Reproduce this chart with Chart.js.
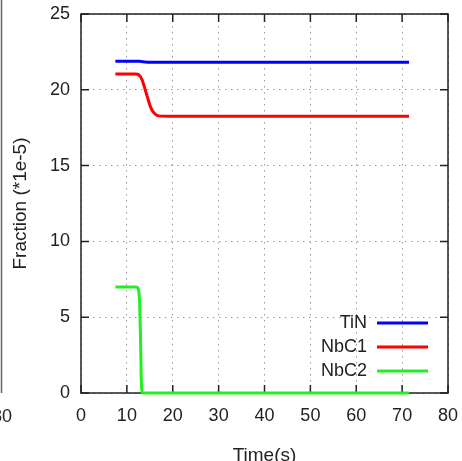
<!DOCTYPE html>
<html>
<head>
<meta charset="utf-8">
<title>Fraction vs time</title>
<script src="https://cdn.jsdelivr.net/npm/chart.js@4.4.1/dist/chart.umd.min.js"></script>
<style>
  html, body { margin: 0; padding: 0; background: #fff; }
  #wrap { width: 462px; height: 461px; }
</style>
</head>
<body>
<div id="wrap"><canvas id="fractionChart" width="462" height="461"></canvas></div>
<script>
// simulation output, fraction in units of 1e-5
const timeS = [7.5, 10, 12, 12.5, 12.8, 13, 13.2, 13.5, 14, 14.5, 15, 15.5, 16, 16.5, 17, 20, 30, 40, 50, 60, 71.5];
const tin   = [21.88, 21.88, 21.88, 21.88, 21.88, 21.87, 21.86, 21.85, 21.83, 21.82, 21.82, 21.82, 21.82, 21.82, 21.82, 21.82, 21.82, 21.82, 21.82, 21.82, 21.82];
const nbc1  = [21.05, 21.05, 21.05, 21.0, 20.92, 20.85, 20.72, 20.5, 20.0, 19.5, 19.0, 18.65, 18.45, 18.32, 18.28, 18.25, 18.25, 18.25, 18.25, 18.25, 18.25];
const nbc2  = [7.0, 7.0, 7.0, 6.85, 5.8, 3.2, 0.4, 0, 0, 0, 0, 0, 0, 0, 0, 0, 0, 0, 0, 0, 0];

const seriesNames = ['TiN', 'NbC1', 'NbC2'];
const seriesColors = ['#0000ff', '#ff0000', '#22ee22'];

const xTicks = [0, 10, 20, 30, 40, 50, 60, 70, 80];
const yTicks = [0, 5, 10, 15, 20, 25];

const FONT = '"Liberation Sans", Arial, Helvetica, sans-serif';
const INK = '#222';

function pts(ys) {
  return timeS.map((t, i) => ({ x: t, y: ys[i] }));
}

// gnuplot-like frame with inward ticks on all four sides
const framePlugin = {
  id: 'frame',
  beforeDatasetsDraw(chart) {
    const { ctx, chartArea: a, scales: { x, y } } = chart;
    const len = 8;
    ctx.save();
    ctx.strokeStyle = INK;
    ctx.lineWidth = 1.5;
    ctx.strokeRect(a.left, a.top, a.right - a.left, a.bottom - a.top);
    ctx.beginPath();
    xTicks.forEach(v => {
      const px = x.getPixelForValue(v);
      ctx.moveTo(px, a.bottom); ctx.lineTo(px, a.bottom - len);
      ctx.moveTo(px, a.top);    ctx.lineTo(px, a.top + len);
    });
    yTicks.forEach(v => {
      const py = y.getPixelForValue(v);
      ctx.moveTo(a.left, py);  ctx.lineTo(a.left + len, py);
      ctx.moveTo(a.right, py); ctx.lineTo(a.right - len, py);
    });
    ctx.stroke();

    // edge of the neighbouring panel on the left
    ctx.strokeStyle = '#666';
    ctx.lineWidth = 1.5;
    ctx.beginPath();
    ctx.moveTo(1.5, 0); ctx.lineTo(1.5, 393);
    ctx.stroke();
    ctx.fillStyle = INK;
    ctx.font = '18px ' + FONT;
    ctx.textAlign = 'right';
    ctx.textBaseline = 'middle';
    ctx.fillText('80', 12, 417);
    ctx.restore();
  }
};

// key in the lower right corner: label, then a line sample
const keyPlugin = {
  id: 'key',
  afterDraw(chart) {
    const { ctx } = chart;
    const rows = [323, 347, 371];
    ctx.save();
    ctx.font = '18px ' + FONT;
    ctx.textAlign = 'right';
    ctx.textBaseline = 'middle';
    chart.data.datasets.forEach((ds, i) => {
      ctx.fillStyle = INK;
      ctx.fillText(ds.label, 367, rows[i]);
      ctx.strokeStyle = ds.borderColor;
      ctx.lineWidth = 3;
      ctx.beginPath();
      ctx.moveTo(377, rows[i]);
      ctx.lineTo(428, rows[i]);
      ctx.stroke();
    });
    ctx.restore();
  }
};

Chart.defaults.font.family = FONT;
Chart.defaults.color = INK;

const ctx = document.getElementById('fractionChart').getContext('2d');
new Chart(ctx, {
  type: 'line',
  data: {
    datasets: [tin, nbc1, nbc2].map((ys, i) => ({
      label: seriesNames[i],
      data: pts(ys),
      borderColor: seriesColors[i],
      backgroundColor: seriesColors[i],
      borderWidth: 3,
      pointRadius: 0,
      cubicInterpolationMode: 'monotone',
      clip: 4
    }))
  },
  options: {
    responsive: false,
    animation: false,
    layout: { padding: { top: 14, right: 14, left: 0, bottom: 0 } },
    plugins: {
      legend: { display: false },
      tooltip: { enabled: false }
    },
    scales: {
      x: {
        type: 'linear',
        min: 0, max: 80,
        afterBuildTicks: s => { s.ticks = xTicks.map(v => ({ value: v })); },
        afterFit: s => { s.height = 68; s.paddingLeft = 0; s.paddingRight = 0; },
        grid: { color: '#9a9a9a', lineWidth: 1, drawTicks: false },
        border: { display: false, dash: [1.5, 4.5] },
        ticks: { font: { size: 18 }, padding: 12, maxRotation: 0 },
        title: {
          display: true, text: 'Time(s)',
          font: { size: 19, lineHeight: 1 },
          padding: { top: 0, bottom: -4 }
        }
      },
      y: {
        min: 0, max: 25,
        afterBuildTicks: s => { s.ticks = yTicks.map(v => ({ value: v })); },
        afterFit: s => { s.width = 81; s.paddingTop = 0; s.paddingBottom = 0; },
        grid: { color: '#9a9a9a', lineWidth: 1, drawTicks: false },
        border: { display: false, dash: [1.5, 4.5] },
        ticks: { font: { size: 18 }, padding: 11 },
        title: {
          display: true, text: 'Fraction (*1e-5)',
          font: { size: 19, lineHeight: 1 },
          padding: { top: 11, bottom: 0 }
        }
      }
    }
  },
  plugins: [framePlugin, keyPlugin]
});
</script>
</body>
</html>
